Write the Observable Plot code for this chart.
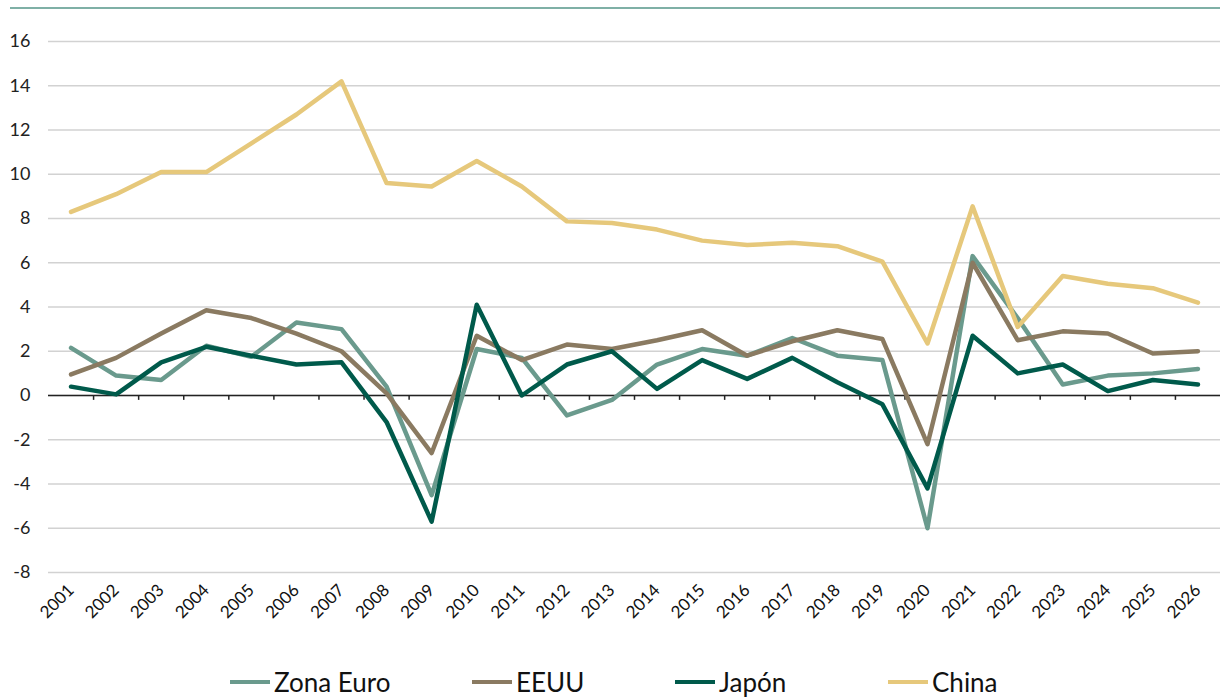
<!DOCTYPE html>
<html>
<head>
<meta charset="utf-8">
<script src="https://cdn.jsdelivr.net/npm/d3@7"></script>
<script src="https://cdn.jsdelivr.net/npm/@observablehq/plot@0.6"></script>
<style>
  html, body { margin: 0; padding: 0; background: #fff; }
  #wrap { position: relative; width: 1220px; height: 697px; overflow: hidden; font-family: Lato, "Noto Sans", sans-serif; }
  #topline { position: absolute; left: 10px; right: 0; top: 7px; height: 2px; background: #7fb0a6; }
  #chart { position: absolute; left: 0; top: 0; }
  .leg { position: absolute; top: 669px; height: 26px; line-height: 26px; display: flex; align-items: center; font-size: 26px; color: #111; white-space: nowrap; }
  .sw { display: inline-block; width: 40px; height: 4px; margin-right: 4px; }
</style>
</head>
<body>
<div id="wrap">
  <div id="chart"></div>
  <div id="topline"></div>
  <div id="legend"></div>
</div>
<script>
const years = [2001,2002,2003,2004,2005,2006,2007,2008,2009,2010,2011,2012,2013,2014,2015,2016,2017,2018,2019,2020,2021,2022,2023,2024,2025,2026];
const seriesNames = ["Zona Euro", "EEUU", "Japón", "China"];
const seriesColors = ["#6a9a8d", "#8a7a61", "#005a4b", "#e6c87b"];
const zonaEuro = [2.15,0.9,0.7,2.25,1.75,3.3,3.0,0.4,-4.5,2.1,1.7,-0.9,-0.2,1.4,2.1,1.8,2.6,1.8,1.6,-6.0,6.3,3.5,0.5,0.9,1.0,1.2];
const eeuu = [0.95,1.7,2.8,3.85,3.5,2.8,2.0,0.1,-2.6,2.7,1.6,2.3,2.1,2.5,2.95,1.8,2.45,2.95,2.55,-2.2,6.0,2.5,2.9,2.8,1.9,2.0];
const japon = [0.4,0.05,1.5,2.2,1.8,1.4,1.5,-1.2,-5.7,4.1,0.0,1.4,2.0,0.3,1.6,0.75,1.7,0.6,-0.4,-4.2,2.7,1.0,1.4,0.2,0.7,0.5];
const china = [8.3,9.1,10.1,10.1,11.4,12.7,14.2,9.6,9.45,10.6,9.45,7.87,7.8,7.5,7.0,6.8,6.9,6.75,6.05,2.35,8.55,3.1,5.4,5.05,4.85,4.2];
const yTicks = [-8,-6,-4,-2,0,2,4,6,8,10,12,14,16];

const valuesBySeries = [zonaEuro, eeuu, japon, china];
const data = [];
seriesNames.forEach((name, i) => {
  years.forEach((yr, j) => data.push({serie: name, year: yr, value: valuesBySeries[i][j]}));
});
const boundaries = years.slice(1).map(y => y - 0.5);

const chart = Plot.plot({
  width: 1220,
  height: 640,
  marginTop: 41,
  marginBottom: 68,
  marginLeft: 48,
  marginRight: 0,
  x: {domain: [years[0] - 0.5, years[years.length - 1] + 0.5]},
  y: {domain: [-8, 16]},
  color: {domain: seriesNames, range: seriesColors},
  style: {fontFamily: "Lato, 'Noto Sans', sans-serif", color: "#222", background: "transparent"},
  marks: [
    Plot.gridY(yTicks, {stroke: "#d2d2d2", strokeOpacity: 1, strokeWidth: 1.5}),
    Plot.axisY(yTicks, {tickSize: 0, tickPadding: 18, fontSize: 18, label: null, fill: "#222", tickFormat: d => String(d)}),
    Plot.axisX(years, {tickSize: 0, tickPadding: 15, tickRotate: -45, fontSize: 17, label: null, tickFormat: d => String(d), fill: "#111"}),
    Plot.ruleY([0], {stroke: "#222", strokeWidth: 1.5}),
    Plot.ruleX(boundaries, {x: d => d, y1: 0, y2: -0.22, stroke: "#222", strokeWidth: 1.5}),
    Plot.line(data, {x: "year", y: "value", z: "serie", stroke: "serie", strokeWidth: 4.5, strokeLinejoin: "round", strokeLinecap: "round"})
  ]
});
document.getElementById("chart").appendChild(chart);

const legendLefts = [230, 472, 675, 888];
const legend = document.getElementById("legend");
seriesNames.forEach((name, i) => {
  const item = document.createElement("div");
  item.className = "leg";
  item.style.left = legendLefts[i] + "px";
  const sw = document.createElement("span");
  sw.className = "sw";
  sw.style.background = seriesColors[i];
  const tx = document.createElement("span");
  tx.textContent = name;
  item.appendChild(sw);
  item.appendChild(tx);
  legend.appendChild(item);
});
</script>
</body>
</html>
